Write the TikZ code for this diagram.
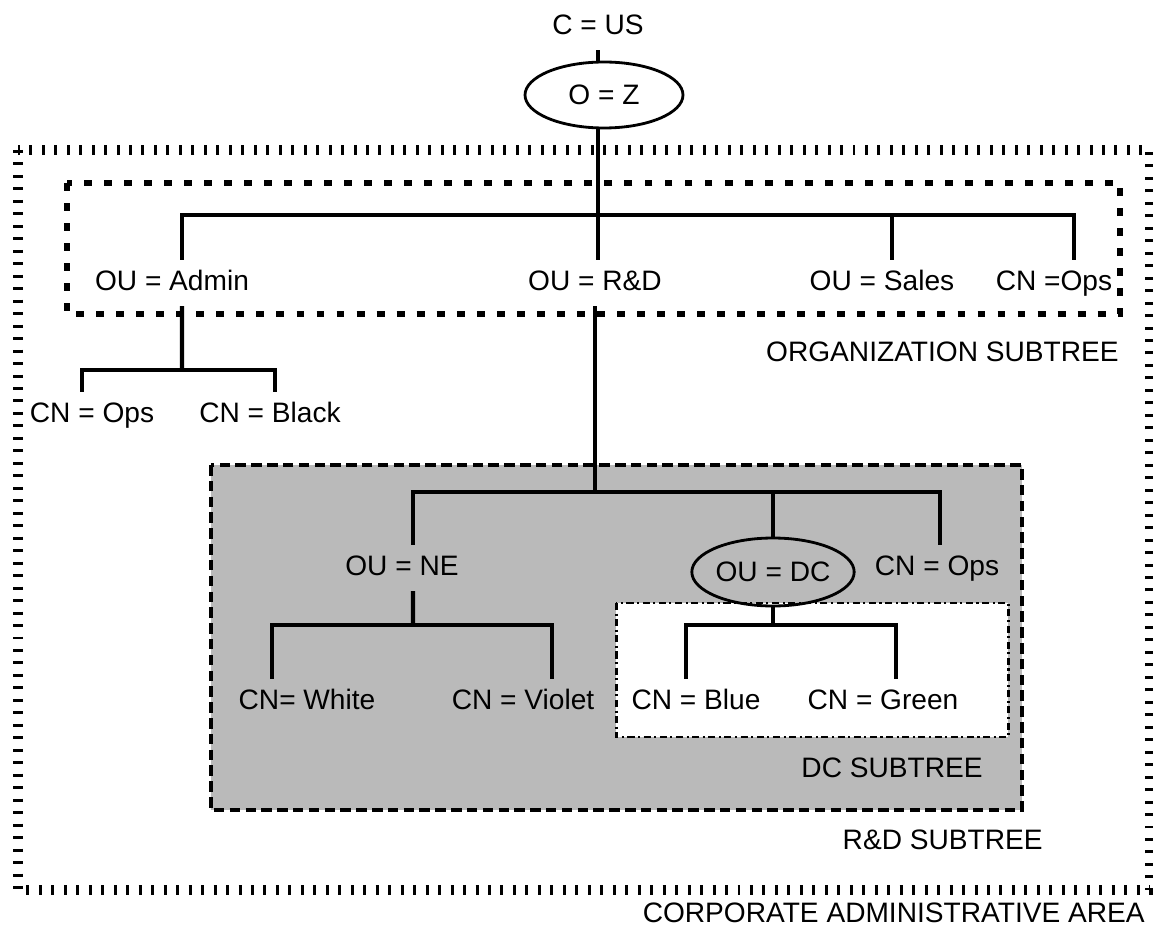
\documentclass[tikz,border=0pt]{standalone}
\usepackage{fontspec}
\setmainfont{Liberation Sans}
\usetikzlibrary{shapes.geometric}
\begin{document}
\begin{tikzpicture}[x=0.02cm,y=-0.02cm,
  lbl/.style={font=\fontsize{16}{19}\selectfont, text height=12pt, text depth=3pt, inner sep=5.5pt},
  oval/.style={ellipse, draw, line width=1.6pt, inner sep=0pt, font=\fontsize{16}{19}\selectfont},
  areatitle/.style={font=\fontsize{16}{19}\selectfont, anchor=east, inner sep=0pt},
  tree/.style={line width=2.4pt},
  corp/.style={line width=6pt, dash pattern=on 1.7pt off 5.4pt},
  orgbox/.style={line width=3pt, dash pattern=on 4.5pt off 6.9pt},
  rdbox/.style={line width=2.4pt, dash pattern=on 6pt off 3pt, fill=black!27},
  dcbox/.style={line width=1.7pt, dash pattern=on 4pt off 2pt on 1.2pt off 2pt, fill=white}
]
\useasboundingbox (0,0) rectangle (1153,929);

% area boxes
\draw[corp] (18,150) rectangle (1150,890);
\draw[orgbox] (67,183) rectangle (1120,314);
\draw[rdbox] (211,465) rectangle (1022,810);
\draw[dcbox] (616,603) rectangle (1008,737);

% area titles
\node[areatitle] (orgt) at (1119,352) {ORGANIZATION SUBTREE};
\node[areatitle] (dct) at (983,768) {DC SUBTREE};
\node[areatitle] (rdt) at (1043,840) {R\&D SUBTREE};
\node[areatitle] (corpt) at (1145,913) {CORPORATE ADMINISTRATIVE AREA};

% nodes
\node[lbl] (us) at (598,27) {C = US};
\node[oval, minimum width=3.16cm, minimum height=1.32cm] (z) at (604,95) {O = Z};

\node[lbl] (admin) at (172,283) {OU = Admin};
\node[lbl] (rd) at (595,283) {OU = R\&D};
\node[lbl] (sales) at (882,283) {OU = Sales};
\node[lbl] (topops) at (1054,283) {CN =Ops};

\node[lbl] (ops1) at (92,415) {CN = Ops};
\node[lbl] (black) at (270,415) {CN = Black};

\node[lbl] (ne) at (402,568) {OU = NE};
\node[oval, minimum width=3.24cm, minimum height=1.36cm] (dc) at (773,572) {OU = DC};
\node[lbl] (rdops) at (937,568) {CN = Ops};

\node[lbl] (white) at (307,702) {CN= White};
\node[lbl] (violet) at (523,702) {CN = Violet};
\node[lbl] (blue) at (696,702) {CN = Blue};
\node[lbl] (green) at (883,702) {CN = Green};

% bar coordinates
\coordinate (orgbar) at (598,215);
\coordinate (adminbar) at (182,370);
\coordinate (rdbar) at (595,492);
\coordinate (nebar) at (413,625);
\coordinate (dcbar) at (773,625);

% connectors
\draw[tree] (us.south) -- (us.south |- z.north);
\draw[tree] (z.south -| orgbar) -- (orgbar);
\draw[tree] ([xshift=0.2cm]admin.north) |- (orgbar) -| ([xshift=0.4cm]topops.north);
\draw[tree] (orgbar) -- (orgbar |- rd.north);
\draw[tree] ([xshift=0.2cm]sales.north) -- ([xshift=0.2cm]sales.north |- orgbar);

\draw[tree] ([xshift=0.2cm]admin.south) -- (adminbar);
\draw[tree] ([xshift=-0.2cm]ops1.north) |- (adminbar) -| ([xshift=0.1cm]black.north);

\draw[tree] (rd.south) -- (rdbar);
\draw[tree] ([xshift=0.22cm]ne.north) |- (rdbar) -| ([xshift=0.06cm]rdops.north);
\draw[tree] (dc.north |- rdbar) -- (dc.north);

\draw[tree] ([xshift=0.22cm]ne.south) -- (nebar);
\draw[tree] ([xshift=-0.7cm]white.north) |- (nebar) -| ([xshift=0.58cm]violet.north);

\draw[tree] (dc.south) -- (dcbar);
\draw[tree] ([xshift=-0.2cm]blue.north) |- (dcbar) -| ([xshift=0.26cm]green.north);
\end{tikzpicture}
\end{document}
